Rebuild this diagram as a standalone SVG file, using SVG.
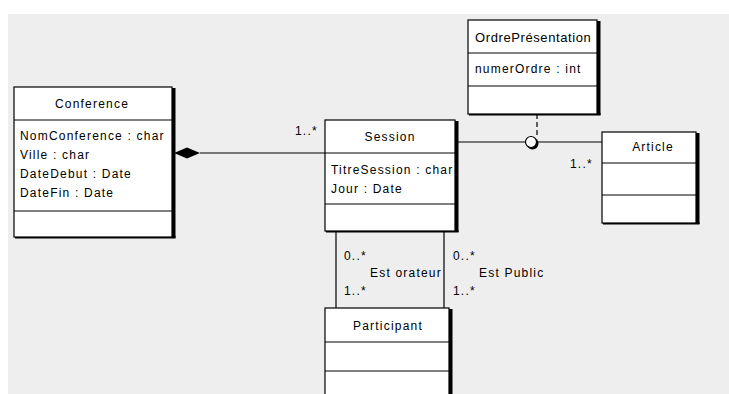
<svg xmlns="http://www.w3.org/2000/svg" width="729" height="394" viewBox="0 0 729 394">
<style>
.box{fill:#fff;stroke:#000;stroke-width:1.2}
.sh{fill:#000}
.div{stroke:#000;stroke-width:1}
.t{font-family:"Liberation Sans",Arial,sans-serif;font-size:12px;fill:#000;letter-spacing:1.2px}
.c{text-anchor:middle}
.n{font-family:"Liberation Sans",Arial,sans-serif;font-size:13px;fill:#000;letter-spacing:0.6px}
.ln{stroke:#000;stroke-width:1.2;fill:none}
</style>
<rect x="0" y="0" width="729" height="394" fill="#fff"/>
<rect x="8" y="14" width="721" height="380" fill="#eeeeee"/>
<g id="connectors">
<line class="ln" x1="200" y1="153" x2="325" y2="153"/>
<polygon points="174,153 187,147.5 200,153 187,158.5" fill="#000"/>
<line class="ln" x1="458" y1="142" x2="602" y2="142"/>
<line class="ln" x1="537" y1="114" x2="537" y2="136" stroke-dasharray="5,3"/>
<circle cx="532.5" cy="143.5" r="6" fill="#000"/>
<circle cx="531" cy="142" r="5.5" fill="#fff" stroke="#000" stroke-width="1.2"/>
<line class="ln" x1="336" y1="231" x2="336" y2="308"/>
<line class="ln" x1="444" y1="231" x2="444" y2="308"/>
<text class="t" x="295" y="135">1..*</text>
<text class="t" x="570" y="168">1..*</text>
<text class="t" x="344" y="260">0..*</text>
<text class="t" x="370" y="277">Est orateur</text>
<text class="t" x="344" y="295">1..*</text>
<text class="t" x="453" y="260">0..*</text>
<text class="t" x="479" y="277">Est Public</text>
<text class="t" x="453" y="295">1..*</text>
</g>
<g id="conference">
<rect class="sh" x="172" y="88" width="3.5" height="150"/>
<rect class="sh" x="15" y="236" width="160.5" height="2.5"/>
<rect class="box" x="14" y="87" width="158" height="150"/>
<line class="div" x1="14" y1="120" x2="172" y2="120"/>
<line class="div" x1="14" y1="211" x2="172" y2="211"/>
<text class="t c" x="92" y="108">Conference</text>
<text class="t" x="20" y="140">NomConference : char</text>
<text class="t" x="20" y="159">Ville : char</text>
<text class="t" x="20" y="178">DateDebut : Date</text>
<text class="t" x="20" y="197">DateFin : Date</text>
</g>
<g id="session">
<rect class="sh" x="455" y="121" width="3.5" height="111"/>
<rect class="sh" x="326" y="230" width="132.5" height="2.5"/>
<rect class="box" x="325" y="120" width="130" height="111"/>
<line class="div" x1="325" y1="153" x2="455" y2="153"/>
<line class="div" x1="325" y1="204" x2="455" y2="204"/>
<text class="t c" x="390" y="141">Session</text>
<text class="t" x="331" y="174">TitreSession : char</text>
<text class="t" x="331" y="193">Jour : Date</text>
</g>
<g id="ordrepresentation">
<rect class="sh" x="597" y="21" width="3.5" height="94"/>
<rect class="sh" x="469" y="113" width="131.5" height="2.5"/>
<rect class="box" x="468" y="20" width="129" height="94"/>
<line class="div" x1="468" y1="53" x2="597" y2="53"/>
<line class="div" x1="468" y1="86" x2="597" y2="86"/>
<text class="n" x="475" y="42">OrdrePrésentation</text>
<text class="t" x="475" y="73">numerOrdre : int</text>
</g>
<g id="article">
<rect class="sh" x="696" y="133" width="3.5" height="91"/>
<rect class="sh" x="603" y="222" width="96.5" height="2.5"/>
<rect class="box" x="602" y="132" width="94" height="91"/>
<line class="div" x1="602" y1="163" x2="696" y2="163"/>
<line class="div" x1="602" y1="195" x2="696" y2="195"/>
<text class="t c" x="653" y="151">Article</text>
</g>
<g id="participant">
<rect class="sh" x="449" y="309" width="3.5" height="90"/>
<rect class="box" x="325" y="308" width="124" height="95"/>
<line class="div" x1="325" y1="342" x2="449" y2="342"/>
<line class="div" x1="325" y1="371" x2="449" y2="371"/>
<text class="t c" x="388" y="330">Participant</text>
</g>
</svg>
